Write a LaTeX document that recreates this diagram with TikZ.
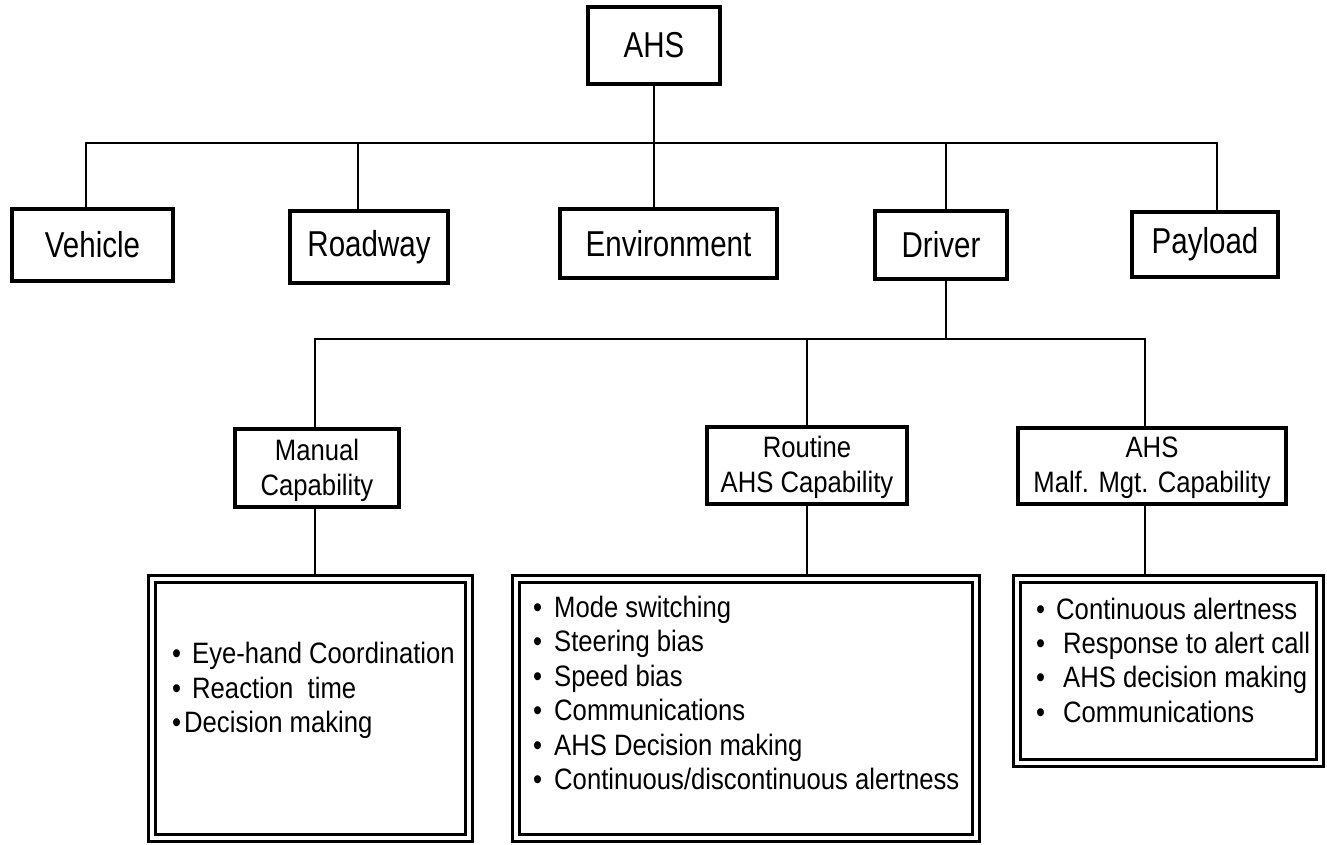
\documentclass[tikz,border=0pt]{standalone}
\usepackage{fontspec}
\setmainfont{Liberation Sans}[FakeStretch=0.87]
\newfontfamily\labelfont{Liberation Sans}[FakeStretch=0.82]
% bullet followed by a fixed gap before the item text
\newcommand\itembullet[1][20pt]{\makebox[#1][l]{\textbullet}}
\begin{document}
\begin{tikzpicture}[x=1pt,y=-1pt,
  box/.style={draw, line width=3.3pt, inner sep=0pt, align=center,
    font=\labelfont\fontsize{36}{42}\selectfont},
  subbox/.style={draw, line width=3.3pt, inner sep=0pt, align=center,
    font=\fontsize{29.5}{35}\selectfont},
  listbox/.style={draw, double, line width=2.8pt, double distance=4.8pt,
    inner sep=0pt, outer sep=5.2pt},
  item/.style={anchor=base west, inner sep=0pt,
    font=\fontsize{29.5}{35}\selectfont},
  link/.style={line width=2.9pt}]
\useasboundingbox (0,0) rectangle (1327,844);

% top level
\node[box, minimum width=132pt, minimum height=77pt] (ahs) at (654,45.5) {AHS};

% system elements
\node[box, minimum width=161pt, minimum height=72pt] (vehicle) at (92.5,245) {Vehicle};
\node[box, minimum width=158pt, minimum height=72pt] (roadway) at (369,247) {Roadway};
\node[box, minimum width=217pt, minimum height=69pt] (env) at (668.5,243.5) {Environment};
\node[box, minimum width=132pt, minimum height=68pt] (driver) at (941,245) {Driver};
\node[box, minimum width=146pt, minimum height=65pt] (payload) at (1205,244.5) {Payload};

% driver capabilities
\node[subbox, minimum width=164pt, minimum height=78pt, text depth=2pt] (manual) at (317,468) {Manual\\Capability};
\node[subbox, minimum width=200pt, minimum height=77pt, text depth=2pt] (routine) at (807,465.5) {Routine\\AHS Capability};
\node[subbox, minimum width=268pt, minimum height=76pt, text depth=2pt] (malf) at (1152,466) {AHS\\Malf. Mgt. Capability};

% capability detail lists
\node[listbox, minimum width=317pt, minimum height=259pt] (mdet) at (310.5,708.5) {};
\node[listbox, minimum width=460pt, minimum height=259pt] (rdet) at (746,708.5) {};
\node[listbox, minimum width=303pt, minimum height=184pt] (adet) at (1168.5,671) {};

\node[item] (m1) at (172,663) {\itembullet Eye-hand Coordination};
\node[item] (m2) at (172,698) {\itembullet Reaction\ \ time};
\node[item] (m3) at (172,732) {\itembullet[12pt]Decision making};

\node[item] (r1) at (533,617) {\itembullet[21pt]Mode switching};
\node[item] (r2) at (533,651) {\itembullet[21pt]Steering bias};
\node[item] (r3) at (533,686) {\itembullet[21pt]Speed bias};
\node[item] (r4) at (533,720) {\itembullet[21pt]Communications};
\node[item] (r5) at (533,755) {\itembullet[21pt]AHS Decision making};
\node[item] (r6) at (533,789) {\itembullet[21pt]Continuous/discontinuous alertness};

\node[item] (a1) at (1036,619) {\itembullet Continuous alertness};
\node[item] (a2) at (1036,653) {\itembullet[27pt]Response to alert call};
\node[item] (a3) at (1036,687) {\itembullet[27pt]AHS decision making};
\node[item] (a4) at (1036,722) {\itembullet[27pt]Communications};

% bus junctions
\coordinate (bV) at (86,143);
\coordinate (bR) at (358,143);
\coordinate (bD) at (946,143);
\coordinate (bP) at (1217,143);
\coordinate (cM) at (315,339);
\coordinate (cA) at (1145,339);

% first level connectors
\draw[link] (vehicle.north -| bV) -- (bV) -- (bP) -- (payload.north -| bP);
\draw[link] (bR) -- (roadway.north -| bR);
\draw[link] (bD) -- (driver.north -| bD);
\draw[link] (ahs.south) -- (ahs.south |- env.north);

% second level connectors
\draw[link] (driver.south -| bD) -- (bD |- cM);
\draw[link] (manual.north -| cM) -- (cM) -- (cA) -- (malf.north -| cA);
\draw[link] (routine.north) -- (routine.north |- cM);

% capability to detail connectors
\draw[link] (cM |- manual.south) -- (cM |- mdet.north);
\draw[link] (routine.south) -- (routine.south |- rdet.north);
\draw[link] (cA |- malf.south) -- (cA |- adet.north);
\end{tikzpicture}
\end{document}
